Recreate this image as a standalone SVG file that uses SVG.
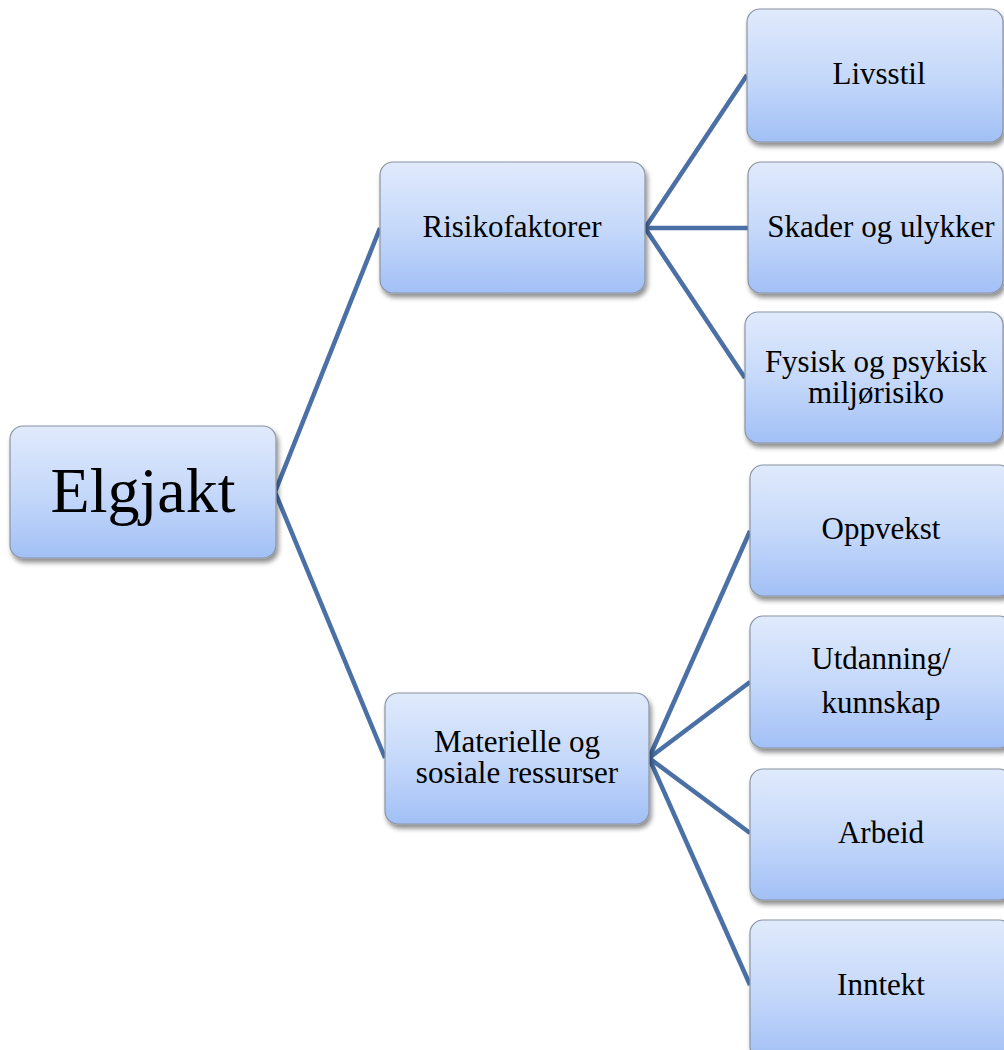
<svg xmlns="http://www.w3.org/2000/svg" width="1004" height="1050" viewBox="0 0 1004 1050">
<defs>
<linearGradient id="g" x1="0" y1="0" x2="0" y2="1">
<stop offset="0" stop-color="#e0eafc"/>
<stop offset="0.5" stop-color="#c6d9fa"/>
<stop offset="1" stop-color="#a2c0f6"/>
</linearGradient>
<filter id="sh" x="-10%" y="-10%" width="125%" height="130%">
<feGaussianBlur in="SourceAlpha" stdDeviation="2.5"/>
<feOffset dx="2" dy="4" result="b"/>
<feComponentTransfer><feFuncA type="linear" slope="0.45"/></feComponentTransfer>
<feMerge><feMergeNode/><feMergeNode in="SourceGraphic"/></feMerge>
</filter>
</defs>
<style>
.box{fill:url(#g);stroke:#8a94a3;stroke-width:1.2;filter:url(#sh)}
.t{font-family:"Liberation Serif","Times New Roman",serif;font-size:31px;fill:#000;text-anchor:middle}
.big{font-size:64px}
.c{stroke:#4a70a6;stroke-width:4.5;fill:none;stroke-linejoin:miter}
</style>
<g id="connectors">
<polyline class="c" points="380,228 275,492 385,758"/>
<line class="c" x1="645" y1="228" x2="747" y2="75"/>
<line class="c" x1="645" y1="228" x2="748" y2="228"/>
<line class="c" x1="645" y1="228" x2="745" y2="378"/>
<line class="c" x1="649" y1="758" x2="750" y2="531"/>
<line class="c" x1="649" y1="758" x2="750" y2="682"/>
<line class="c" x1="649" y1="758" x2="750" y2="833"/>
<line class="c" x1="649" y1="758" x2="750" y2="985"/>
</g>
<g id="elgjakt"><rect class="box" x="10" y="426" width="266" height="132" rx="13"/><text class="t big" x="143" y="512">Elgjakt</text></g>
<g id="risikofaktorer"><rect class="box" x="380" y="162" width="265" height="131" rx="13"/><text class="t" x="512" y="237">Risikofaktorer</text></g>
<g id="materielle"><rect class="box" x="385" y="693" width="264" height="131" rx="13"/><text class="t" x="517" y="752">Materielle og</text><text class="t" x="517" y="783">sosiale ressurser</text></g>
<g id="livsstil"><rect class="box" x="747" y="9" width="256" height="133" rx="13"/><text class="t" x="879" y="84">Livsstil</text></g>
<g id="skader"><rect class="box" x="748" y="162" width="255" height="131" rx="13"/><text class="t" x="881" y="237">Skader og ulykker</text></g>
<g id="fysisk"><rect class="box" x="745" y="312" width="258" height="131" rx="13"/><text class="t" x="876" y="372">Fysisk og psykisk</text><text class="t" x="876" y="403">miljørisiko</text></g>
<g id="oppvekst"><rect class="box" x="750" y="465" width="262" height="131" rx="13"/><text class="t" x="881" y="539">Oppvekst</text></g>
<g id="utdanning"><rect class="box" x="750" y="616" width="262" height="132" rx="13"/><text class="t" x="881" y="669">Utdanning/</text><text class="t" x="881" y="713">kunnskap</text></g>
<g id="arbeid"><rect class="box" x="750" y="769" width="262" height="131" rx="13"/><text class="t" x="881" y="843">Arbeid</text></g>
<g id="inntekt"><rect class="box" x="750" y="920" width="262" height="140" rx="13"/><text class="t" x="881" y="995">Inntekt</text></g>
</svg>
